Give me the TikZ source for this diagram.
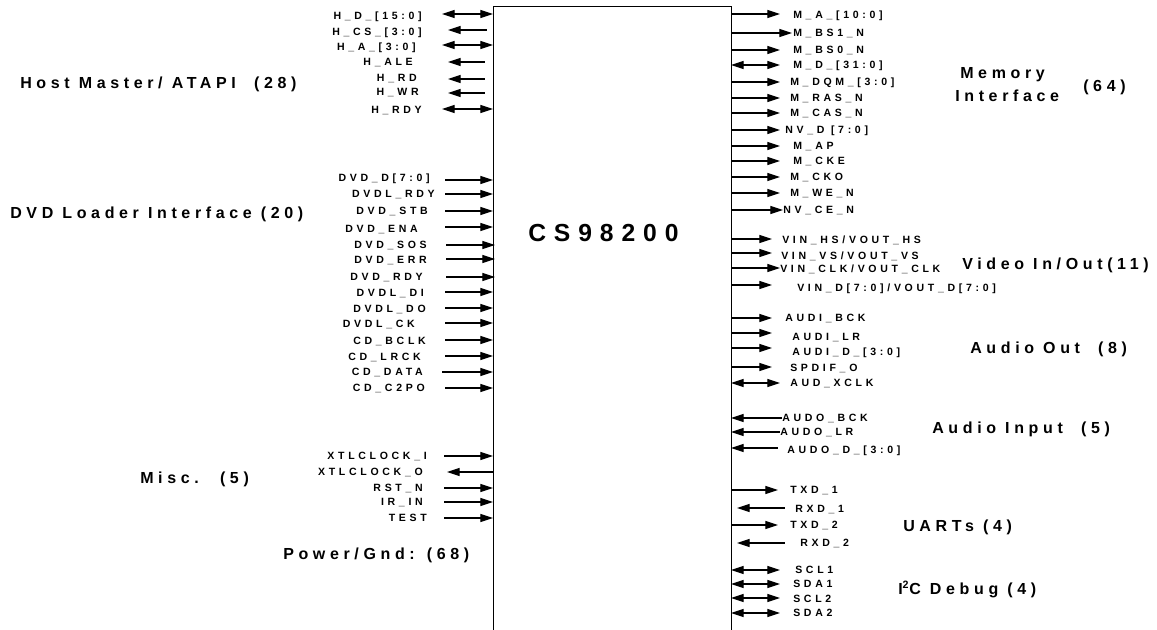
\documentclass[tikz,border=0pt]{standalone}
\usepackage{fontspec}
\setmainfont{Liberation Sans}
\newfontfamily\pinfont[LetterSpace=35]{Liberation Sans Bold}
\newfontfamily\grpfont[LetterSpace=29]{Liberation Sans Bold}
\newfontfamily\chipfont[LetterSpace=32]{Liberation Sans Bold}
\usetikzlibrary{arrows.meta}
\tikzset{
  pinlbl/.style={inner sep=0pt, font=\pinfont\fontsize{7.9}{8}\selectfont},
  grplbl/.style={inner sep=0pt, anchor=base west, font=\grpfont\fontsize{12}{14}\selectfont},
  wire/.style={line width=0.8pt},
  tip/.tip={Triangle[length=9.5pt,width=6pt]},
  dbl/.style={wire, tip-tip},
  toR/.style={wire, -tip},
  toL/.style={wire, tip-},
  chipbox/.style={draw, line width=1pt, inner sep=0pt, anchor=north west,
    minimum width=178.5pt, minimum height=495pt},
}
% left pin: name, label y, label right x, text, style, arrow y, x1, x2
\newcommand\pinL[8]{%
  \node[pinlbl, anchor=base east] (#1) at (#3,#2+3.8) {#4};
  \coordinate (#1-a) at (#7,#6);
  \coordinate (#1-b) at (#8,#6);
  \draw[#5] (#1-a) -- (#1-b);}
% right pin: name, label y, label left x, text, style, arrow y, x1, x2
\newcommand\pinR[8]{%
  \node[pinlbl, anchor=base west] (#1) at (#3,#2+3.8) {#4};
  \coordinate (#1-a) at (#7,#6);
  \coordinate (#1-b) at (#8,#6);
  \draw[#5] (#1-a) -- (#1-b);}
\begin{document}
\begin{tikzpicture}[x=0.75pt,y=-0.75pt]
\useasboundingbox (0,0) rectangle (1157,629);
\clip (0,0) rectangle (1157,629);
\fill[white] (0,0) rectangle (1157,629);
\node[chipbox] (chip) at (493,6) {};
\node[inner sep=0pt, anchor=west, font=\chipfont\fontsize{18.5}{20}\selectfont] (title) at (528,233) {CS98200};
% ---- Host
\pinL{hd}{16}{422}{H\_D\_[15:0]}{dbl}{14}{442}{493}
\pinL{hcs}{32}{422}{H\_CS\_[3:0]}{toL}{30}{448}{487}
\pinL{ha}{47}{416}{H\_A\_[3:0]}{dbl}{45}{442}{493}
\pinL{hale}{62}{413}{H\_ALE}{toL}{62}{448}{485}
\pinL{hrd}{78}{417}{H\_RD}{toL}{79}{448}{485}
\pinL{hwr}{92}{419}{H\_WR}{toL}{93}{448}{485}
\pinL{hrdy}{110}{422}{H\_RDY}{dbl}{109}{442}{493}
% ---- DVD
\pinL{dvdd}{178}{430}{DVD\_D[7:0]}{toR}{180}{445}{493}
\pinL{dvdlrdy}{194}{435}{DVDL\_RDY}{toR}{194}{445}{493}
\pinL{dvdstb}{211}{428}{DVD\_STB}{toR}{211}{445}{493}
\pinL{dvdena}{229}{418}{DVD\_ENA}{toR}{227}{445}{493}
\pinL{dvdsos}{245}{427}{DVD\_SOS}{toR}{245}{446}{495}
\pinL{dvderr}{260}{427}{DVD\_ERR}{toR}{259}{446}{495}
\pinL{dvdrdy}{277}{423}{DVD\_RDY}{toR}{277}{446}{495}
\pinL{dvdldi}{293}{424}{DVDL\_DI}{toR}{292}{445}{493}
\pinL{dvdldo}{309}{426}{DVDL\_DO}{toR}{308}{445}{493}
\pinL{dvdlck}{324}{415}{DVDL\_CK}{toR}{323}{445}{493}
\pinL{cdbclk}{341}{426}{CD\_BCLK}{toR}{340}{445}{493}
\pinL{cdlrck}{357}{421}{CD\_LRCK}{toR}{356}{445}{493}
\pinL{cddata}{372}{423}{CD\_DATA}{toR}{372}{442}{493}
\pinL{cdc2po}{388}{425}{CD\_C2PO}{toR}{388}{445}{493}
% ---- Misc
\pinL{xtli}{456}{427}{XTLCLOCK\_I}{toR}{456}{444}{493}
\pinL{xtlo}{472}{423}{XTLCLOCK\_O}{toL}{472}{447}{493}
\pinL{rstn}{488}{423}{RST\_N}{toR}{488}{444}{493}
\pinL{irin}{502}{423}{IR\_IN}{toR}{502}{444}{493}
\pinL{test}{518}{427}{TEST}{toR}{518}{444}{493}
% ---- Memory
\pinR{ma}{15}{793}{M\_A\_[10:0]}{toR}{14}{731}{780}
\pinR{mbs1}{33}{793}{M\_BS1\_N}{toR}{33}{731}{792}
\pinR{mbs0}{50}{793}{M\_BS0\_N}{toR}{50}{731}{780}
\pinR{md}{65}{793}{M\_D\_[31:0]}{dbl}{65}{731}{780}
\pinR{mdqm}{82}{790}{M\_DQM\_[3:0]}{toR}{82}{731}{780}
\pinR{mras}{98}{790}{M\_RAS\_N}{toR}{98}{731}{780}
\pinR{mcas}{113}{790}{M\_CAS\_N}{toR}{113}{731}{780}
\pinR{nvd}{130}{785}{NV\_D [7:0]}{toR}{130}{731}{780}
\pinR{map}{146}{793}{M\_AP}{toR}{146}{731}{780}
\pinR{mcke}{161}{793}{M\_CKE}{toR}{161}{731}{780}
\pinR{mcko}{177}{790}{M\_CKO}{toR}{177}{731}{780}
\pinR{mwe}{193}{790}{M\_WE\_N}{toR}{193}{731}{780}
\pinR{nvce}{210}{783}{NV\_CE\_N}{toR}{210}{731}{783}
% ---- Video
\pinR{vhs}{240}{782}{VIN\_HS/VOUT\_HS}{toR}{239}{731}{772}
\pinR{vvs}{256}{781}{VIN\_VS/VOUT\_VS}{toR}{253}{731}{772}
\pinR{vclk}{269}{780}{VIN\_CLK/VOUT\_CLK}{toR}{268}{731}{780}
\pinR{vd}{288}{797}{VIN\_D[7:0]/VOUT\_D[7:0]}{toR}{285}{731}{772}
% ---- Audio out
\pinR{abck}{318}{785}{AUDI\_BCK}{toR}{318}{731}{772}
\pinR{alr}{337}{792}{AUDI\_LR}{toR}{333}{731}{772}
\pinR{ad}{352}{792}{AUDI\_D\_[3:0]}{toR}{348}{731}{772}
\pinR{spdif}{368}{790}{SPDIF\_O}{toR}{367}{731}{772}
\pinR{axclk}{383}{790}{AUD\_XCLK}{dbl}{383}{731}{780}
% ---- Audio in
\pinR{aobck}{418}{782}{AUDO\_BCK}{toL}{418}{731}{782}
\pinR{aolr}{432}{780}{AUDO\_LR}{toL}{432}{731}{780}
\pinR{aod}{450}{787}{AUDO\_D\_[3:0]}{toL}{448}{731}{778}
% ---- UARTs
\pinR{txd1}{490}{790}{TXD\_1}{toR}{490}{731}{778}
\pinR{rxd1}{509}{795}{RXD\_1}{toL}{508}{737}{785}
\pinR{txd2}{525}{790}{TXD\_2}{toR}{525}{731}{778}
\pinR{rxd2}{543}{800}{RXD\_2}{toL}{543}{737}{785}
% ---- I2C
\pinR{scl1}{570}{795}{SCL1}{dbl}{570}{731}{780}
\pinR{sda1}{584}{793}{SDA1}{dbl}{584}{731}{780}
\pinR{scl2}{599}{793}{SCL2}{dbl}{598}{731}{780}
\pinR{sda2}{613}{793}{SDA2}{dbl}{613}{731}{780}
% ---- group labels
\node[grplbl] (g-host) at (20,88) {Host Master/ ATAPI \ (28)};
\node[grplbl] (g-dvd) at (10,218) {DVD Loader Interface (20)};
\node[grplbl] (g-misc) at (140,483) {Misc. \ (5)};
\node[grplbl] (g-pwr) at (283,559) {Power/Gnd: (68)};
\node[grplbl] (g-mem1) at (960,78) {Memory};
\node[grplbl] (g-mem2) at (955,101) {Interface};
\node[grplbl] (g-mem3) at (1083,91) {(64)};
\node[grplbl] (g-vid) at (962,269) {Video In/Out(11)};
\node[grplbl] (g-aout) at (970,353) {Audio Out \ (8)};
\node[grplbl] (g-ain) at (932,433) {Audio Input \ (5)};
\node[grplbl] (g-uart) at (903,531) {UARTs (4)};
\node[grplbl] (g-i2c) at (898,594) {I\textsuperscript{2}C Debug (4)};
\end{tikzpicture}
\end{document}
